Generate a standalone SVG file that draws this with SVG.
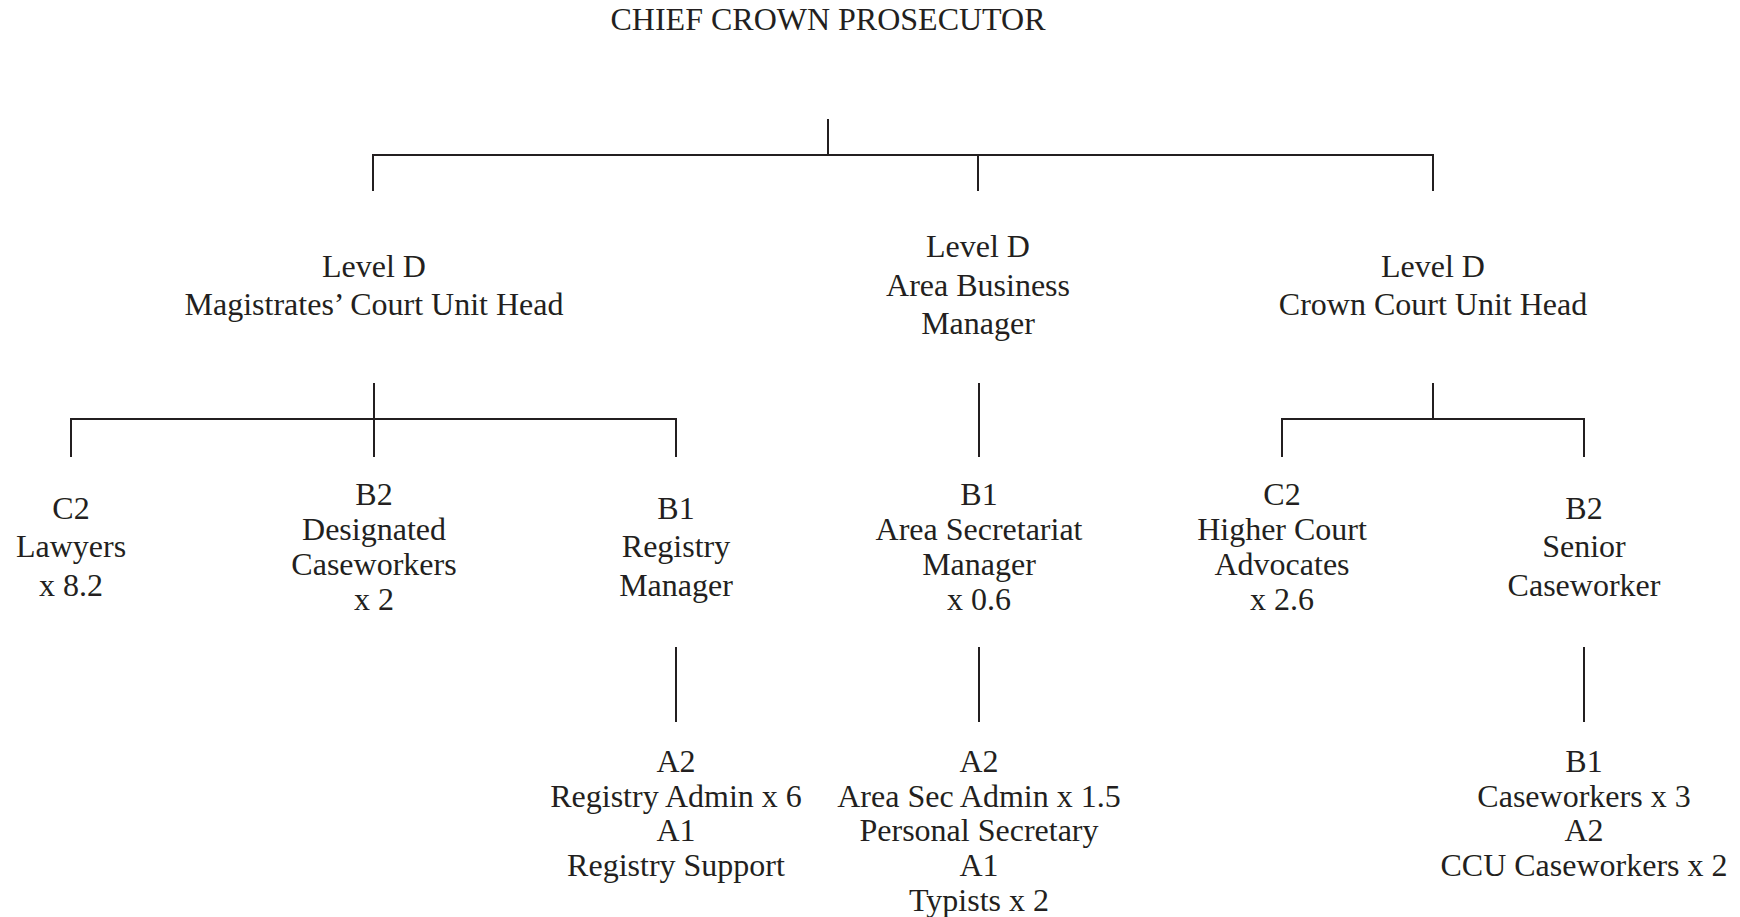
<svg xmlns="http://www.w3.org/2000/svg" width="1740" height="917" viewBox="0 0 1740 917">
<style>
text{font-family:"Liberation Serif","Times New Roman",serif;font-size:32px;fill:#231f20;text-anchor:middle}
.c line{stroke:#231f20;stroke-width:2;fill:none}
</style>
<rect width="1740" height="917" fill="#fff"/>
<g class="c" id="connectors">
<line x1="828" y1="119" x2="828" y2="155"/>
<line x1="372" y1="155" x2="1434" y2="155"/>
<line x1="373" y1="155" x2="373" y2="191"/>
<line x1="978" y1="155" x2="978" y2="191"/>
<line x1="1433" y1="155" x2="1433" y2="191"/>
<line x1="374" y1="383" x2="374" y2="457"/>
<line x1="70" y1="419" x2="677" y2="419"/>
<line x1="71" y1="419" x2="71" y2="457"/>
<line x1="676" y1="419" x2="676" y2="457"/>
<line x1="979" y1="383" x2="979" y2="457"/>
<line x1="1433" y1="383" x2="1433" y2="419"/>
<line x1="1281" y1="419" x2="1585" y2="419"/>
<line x1="1282" y1="419" x2="1282" y2="457"/>
<line x1="1584" y1="419" x2="1584" y2="457"/>
<line x1="676" y1="647" x2="676" y2="722"/>
<line x1="979" y1="647" x2="979" y2="722"/>
<line x1="1584" y1="647" x2="1584" y2="722"/>
</g>
<g id="ccp"><text x="828" y="30">CHIEF CROWN PROSECUTOR</text></g>
<g id="mcu"><text x="374" y="277">Level D</text><text x="374" y="315">Magistrates’ Court Unit Head</text></g>
<g id="abm"><text x="978" y="257">Level D</text><text x="978" y="296">Area Business</text><text x="978" y="334">Manager</text></g>
<g id="ccu"><text x="1433" y="277">Level D</text><text x="1433" y="315">Crown Court Unit Head</text></g>
<g id="lawyers"><text x="71" y="519">C2</text><text x="71" y="557">Lawyers</text><text x="71" y="596">x 8.2</text></g>
<g id="designated"><text x="374" y="505">B2</text><text x="374" y="540">Designated</text><text x="374" y="575">Caseworkers</text><text x="374" y="610">x 2</text></g>
<g id="registry"><text x="676" y="519">B1</text><text x="676" y="557">Registry</text><text x="676" y="596">Manager</text></g>
<g id="secretariat"><text x="979" y="505">B1</text><text x="979" y="540">Area Secretariat</text><text x="979" y="575">Manager</text><text x="979" y="610">x 0.6</text></g>
<g id="hca"><text x="1282" y="505">C2</text><text x="1282" y="540">Higher Court</text><text x="1282" y="575">Advocates</text><text x="1282" y="610">x 2.6</text></g>
<g id="senior"><text x="1584" y="519">B2</text><text x="1584" y="557">Senior</text><text x="1584" y="596">Caseworker</text></g>
<g id="regadmin"><text x="676" y="772">A2</text><text x="676" y="807">Registry Admin x 6</text><text x="676" y="841">A1</text><text x="676" y="876">Registry Support</text></g>
<g id="secadmin"><text x="979" y="772">A2</text><text x="979" y="807">Area Sec Admin x 1.5</text><text x="979" y="841">Personal Secretary</text><text x="979" y="876">A1</text><text x="979" y="911">Typists x 2</text></g>
<g id="caseworkers"><text x="1584" y="772">B1</text><text x="1584" y="807">Caseworkers x 3</text><text x="1584" y="841">A2</text><text x="1584" y="876">CCU Caseworkers x 2</text></g>
</svg>
